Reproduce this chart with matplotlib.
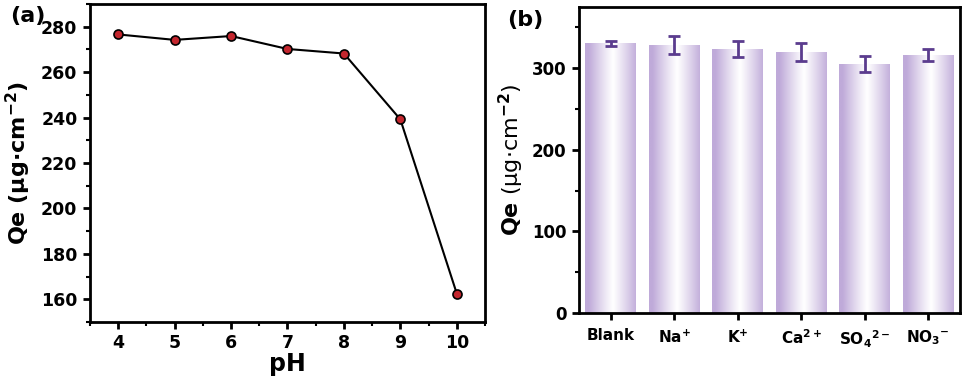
import numpy as np
import matplotlib.pyplot as plt
from matplotlib.colors import to_rgb

plt.rcParams['font.family'] = 'DejaVu Sans'
plt.rcParams['font.weight'] = 'bold'
plt.rcParams['mathtext.fontset'] = 'custom'
plt.rcParams['mathtext.rm'] = 'DejaVu Sans'
plt.rcParams['mathtext.bf'] = 'DejaVu Sans:bold'

# panel (a): Qe vs pH
ph = [4, 5, 6, 7, 8, 9, 10]
qe_ph = [276.6, 274.2, 275.9, 270.2, 268.2, 239.2, 162.5]

# panel (b): coexisting ions
ions = ['Blank', 'Na$^{+}$', 'K$^{+}$', 'Ca$^{2+}$', 'SO$_{4}$$^{2-}$', 'NO$_{3}$$^{-}$']
qe_ion = [330.4, 328.5, 323.3, 320.0, 305.6, 315.9]
qe_err = [3.5, 10.5, 9.6, 10.6, 9.8, 7.6]

fig = plt.figure(figsize=(9.68, 3.8), dpi=100)
W, H = 968, 380
ax1 = fig.add_axes([90 / W, (H - 322) / H, (485 - 90) / W, (322 - 4) / H])
ax2 = fig.add_axes([579 / W, (H - 313) / H, (960 - 579) / W, (313 - 7) / H])

for ax in (ax1, ax2):
    for s in ax.spines.values():
        s.set_linewidth(2)
    ax.tick_params(which='major', direction='out', length=5, width=2,
                   top=False, right=False)
    ax.tick_params(which='minor', direction='out', length=3, width=1.5,
                   top=False, right=False)

# (a)
ax1.plot(ph, qe_ph, color='black', lw=1.5, marker='o', ms=6.5,
         mfc='#c3262e', mec='black', mew=1.2)
ax1.set_xlim(3.5, 10.5)
ax1.set_ylim(150, 290)
ax1.set_xticks(ph)
ax1.set_xticks(np.arange(3.5, 10.6, 0.5), minor=True)
ax1.set_yticks(np.arange(160, 281, 20))
ax1.set_yticks(np.arange(150, 291, 10), minor=True)
ax1.tick_params(labelsize=12.5, pad=4)
ax1.set_xlabel('pH', fontsize=17, fontweight='bold', labelpad=0)
ax1.set_ylabel(r'Qe (μg·cm$^{\mathbf{-2}}$)', fontsize=16, fontweight='bold', labelpad=6)
fig.text(10 / W, 1 - 16 / H, '(a)', fontsize=16, fontweight='bold', va='center')

# (b)
x = np.arange(len(ions))
bars = ax2.bar(x, qe_ion, width=0.8, color='none', edgecolor='none')
purple = np.array(to_rgb('#bfaad9'))
t = np.linspace(0, 1, 200)
f = np.clip(np.abs(t - 0.55) / 0.48, 0, 1) ** 1.1
grad = 1 - f[None, :, None] * (1 - purple[None, None, :])
for b in bars:
    im = ax2.imshow(grad, extent=[b.get_x(), b.get_x() + b.get_width(), 0, b.get_height()],
                    aspect='auto', zorder=1)
    im.set_clip_path(b)
ax2.errorbar(x, qe_ion, yerr=qe_err, fmt='none', ecolor='#5b3c8e',
             elinewidth=2, capsize=4, capthick=2, zorder=3)
ax2.set_xlim(-0.5, 5.5)
ax2.set_ylim(0, 375)
ax2.set_xticks(x)
ax2.set_xticklabels(ions)
ax2.set_yticks([0, 100, 200, 300])
ax2.set_yticks(np.arange(0, 376, 50), minor=True)
ax2.tick_params(axis='y', labelsize=12, pad=4)
ax2.tick_params(axis='x', labelsize=11, pad=6)
ax2.set_ylabel(r'$\mathbf{Qe}$ (μg·cm$^{-2}$)', fontsize=16, fontweight='normal', labelpad=4)
fig.text(507 / W, 1 - 20 / H, '(b)', fontsize=16, fontweight='bold', va='center')

fig.savefig('out.png', dpi=100)
